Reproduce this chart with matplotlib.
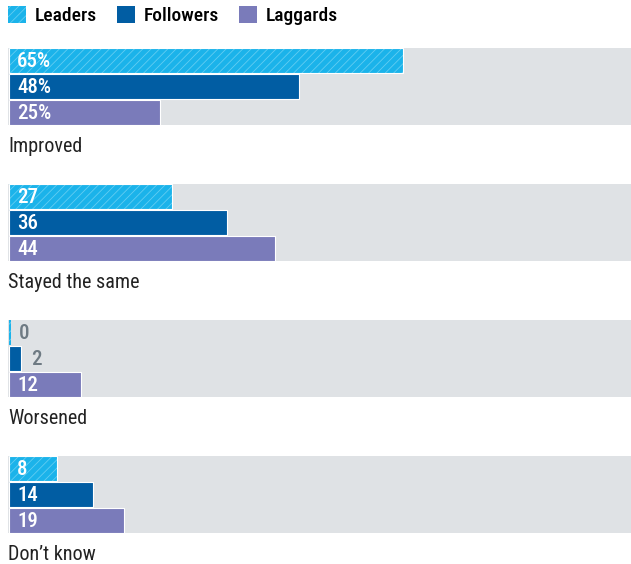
import matplotlib
matplotlib.use("Agg")
import matplotlib.pyplot as plt
from matplotlib import font_manager
from matplotlib.patches import Patch

# data
categories = ["Improved", "Stayed the same", "Worsened", "Don\u2019t know"]
series = ["Leaders", "Followers", "Laggards"]
leaders = [65, 27, 0, 8]
followers = [48, 36, 2, 14]
laggards = [25, 44, 12, 19]

colors = ["#1BB3EA", "#015DA3", "#7A7BBA"]
gray_band = "#DFE2E5"
names = {f.name for f in font_manager.fontManager.ttflist}
fam = ["Roboto Condensed", "Liberation Sans Narrow", "Roboto", "DejaVu Sans"]
fam = [f for f in fam if f in names] or ["DejaVu Sans"]
plt.rcParams["font.family"] = fam
plt.rcParams["hatch.linewidth"] = 0.6

W, H = 631, 564
fig = plt.figure(figsize=(W / 100, H / 100), dpi=100)
ax = fig.add_axes([8 / W, 0, 1 - 8 / W, 1 - 48 / H])
xmax = 623 / 6.06
ax.set_xlim(0, xmax)
ax.set_ylim(516, 0)
ax.axis("off")

step, bar_h, bar_gap = 136, 25, 26
vals = [leaders, followers, laggards]
for g, cat in enumerate(categories):
    top = g * step
    ax.barh(top + 38.5, xmax, height=77, color=gray_band, linewidth=0)
    for i in range(3):
        v = vals[i][g]
        y = top + i * bar_gap + 12.5
        w = max(v, 0.4)
        if i == 0:
            ax.barh(y, w, height=bar_h, left=0.1, color=colors[0],
                    hatch="////", edgecolor="#62CDF2", linewidth=0)
        else:
            ax.barh(y, w, height=bar_h, left=0.1, color=colors[i], linewidth=0)
        if v > 0:
            ax.barh(y, w, height=bar_h, left=0.1, fill=False, edgecolor="white",
                    linewidth=0.8)
        txt = f"{v}%" if g == 0 else f"{v}"
        if v >= 5:
            ax.text(1.5, y + 1, txt, color="white", fontsize=15, fontweight="medium",
                    va="center", ha="left")
        else:
            ax.text(v + 1.8, y + 1, txt, color="#6E7A83", fontsize=15,
                    fontweight="medium", va="center", ha="left")
    ax.text(0, top + 98, cat, fontsize=14.5, color="#222222", va="center", ha="left")

handles = [Patch(facecolor=colors[0], hatch="////", edgecolor="#62CDF2", linewidth=0),
           Patch(facecolor=colors[1], linewidth=0),
           Patch(facecolor=colors[2], linewidth=0)]
fig.legend(handles, series, loc="upper left", bbox_to_anchor=(8 / W, 1 - 6 / H), ncol=3,
           frameon=False, handlelength=0.95, handleheight=0.95,
           handletextpad=0.45, columnspacing=1.0, borderaxespad=0, borderpad=0,
           prop={"weight": "medium", "size": 14})

fig.savefig("out.png", dpi=100)
